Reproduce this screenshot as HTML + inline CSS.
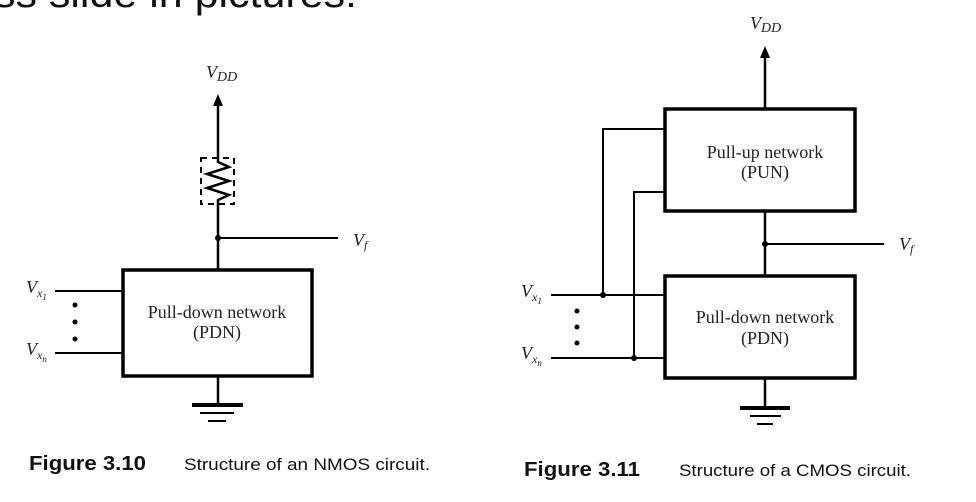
<!DOCTYPE html>
<html><head><meta charset="utf-8"><style>
html,body{margin:0;padding:0;background:#fff;width:976px;height:502px;overflow:hidden}
svg{display:block}
.s{font-family:"Liberation Serif",serif;fill:#222}
.i{font-style:italic}
.c{font-family:"Liberation Sans",sans-serif;fill:#111}
</style></head><body>
<svg width="976" height="502" viewBox="0 0 976 502" xmlns="http://www.w3.org/2000/svg">
<text x="-6" y="7" class="c" font-size="40" textLength="363" lengthAdjust="spacingAndGlyphs">ss slide in pictures:</text>
<g stroke="#000" fill="none">
<line x1="218" y1="104" x2="218" y2="158" stroke-width="2.5"/>
<polygon points="218,94 213,106 223,106" fill="#000" stroke="none"/>
<rect x="201" y="158" width="33" height="46" stroke-width="2" stroke-dasharray="6,5"/>
<polyline points="218,158 218,162 229,167 207,174 229,181 207,188 229,195 218,200 218,204" stroke-width="2.5"/>
<line x1="218" y1="204" x2="218" y2="270" stroke-width="2.5"/>
<line x1="218" y1="238" x2="338" y2="238" stroke-width="2"/>
<rect x="123" y="270" width="189" height="106" stroke-width="3.5"/>
<line x1="55" y1="291" x2="123" y2="291" stroke-width="2"/>
<line x1="55" y1="353" x2="123" y2="353" stroke-width="2"/>
<line x1="218" y1="376" x2="218" y2="405" stroke-width="2.5"/>
<line x1="192" y1="405" x2="243" y2="405" stroke-width="4"/>
<line x1="200" y1="413" x2="234" y2="413" stroke-width="2"/>
<line x1="208" y1="421" x2="226" y2="421" stroke-width="2"/>
<line x1="765" y1="56" x2="765" y2="109" stroke-width="2.5"/>
<polygon points="765,46 760,58 770,58" fill="#000" stroke="none"/>
<rect x="665" y="109" width="190" height="102" stroke-width="3.5"/>
<line x1="765" y1="211" x2="765" y2="276" stroke-width="2.5"/>
<line x1="765" y1="244" x2="884" y2="244" stroke-width="2"/>
<rect x="665" y="276" width="190" height="102" stroke-width="3.5"/>
<line x1="551" y1="295" x2="665" y2="295" stroke-width="2"/>
<line x1="551" y1="358" x2="665" y2="358" stroke-width="2"/>
<polyline points="603,295 603,129 665,129" stroke-width="2"/>
<polyline points="634,358 634,192 665,192" stroke-width="2"/>
<line x1="765" y1="378" x2="765" y2="408" stroke-width="2.5"/>
<line x1="740" y1="408" x2="790" y2="408" stroke-width="4"/>
<line x1="750" y1="416" x2="781" y2="416" stroke-width="2"/>
<line x1="757" y1="424" x2="773" y2="424" stroke-width="2"/>
</g>
<g fill="#000">
<circle cx="218" cy="238" r="3"/>
<circle cx="75" cy="305" r="2.5"/><circle cx="75" cy="322" r="2.5"/><circle cx="75" cy="339" r="2.5"/>
<circle cx="765" cy="244" r="3"/>
<circle cx="603" cy="295" r="3"/><circle cx="634" cy="358" r="3"/>
<circle cx="577" cy="311" r="2.5"/><circle cx="577" cy="327" r="2.5"/><circle cx="577" cy="343" r="2.5"/>
</g>
<text x="206" y="78" class="s i" font-size="18">V<tspan font-size="14" dy="3">DD</tspan></text>
<text x="353" y="246" class="s i" font-size="18">V<tspan font-size="12" dy="3">f</tspan></text>
<text x="26" y="293" class="s i" font-size="18">V<tspan font-size="12" dy="4">x</tspan><tspan font-size="9" dy="3">1</tspan></text>
<text x="26" y="355" class="s i" font-size="18">V<tspan font-size="12" dy="4">x</tspan><tspan font-size="9" dy="3">n</tspan></text>
<text x="217" y="318" class="s" font-size="18" text-anchor="middle">Pull-down network</text>
<text x="217" y="338" class="s" font-size="18" text-anchor="middle">(PDN)</text>
<text x="29" y="470" class="c" font-size="20" font-weight="bold" textLength="117" lengthAdjust="spacingAndGlyphs">Figure 3.10</text>
<text x="184" y="470" class="c" font-size="17" textLength="246" lengthAdjust="spacingAndGlyphs">Structure of an NMOS circuit.</text>
<text x="750" y="29" class="s i" font-size="18">V<tspan font-size="14" dy="3">DD</tspan></text>
<text x="899" y="250" class="s i" font-size="18">V<tspan font-size="12" dy="3">f</tspan></text>
<text x="521" y="297" class="s i" font-size="18">V<tspan font-size="12" dy="4">x</tspan><tspan font-size="9" dy="3">1</tspan></text>
<text x="521" y="359" class="s i" font-size="18">V<tspan font-size="12" dy="4">x</tspan><tspan font-size="9" dy="3">n</tspan></text>
<text x="765" y="158" class="s" font-size="18" text-anchor="middle">Pull-up network</text>
<text x="765" y="178" class="s" font-size="18" text-anchor="middle">(PUN)</text>
<text x="765" y="323" class="s" font-size="18" text-anchor="middle">Pull-down network</text>
<text x="765" y="344" class="s" font-size="18" text-anchor="middle">(PDN)</text>
<text x="524" y="476" class="c" font-size="20" font-weight="bold" textLength="116" lengthAdjust="spacingAndGlyphs">Figure 3.11</text>
<text x="679" y="476" class="c" font-size="17" textLength="232" lengthAdjust="spacingAndGlyphs">Structure of a CMOS circuit.</text>
</svg>
</body></html>
